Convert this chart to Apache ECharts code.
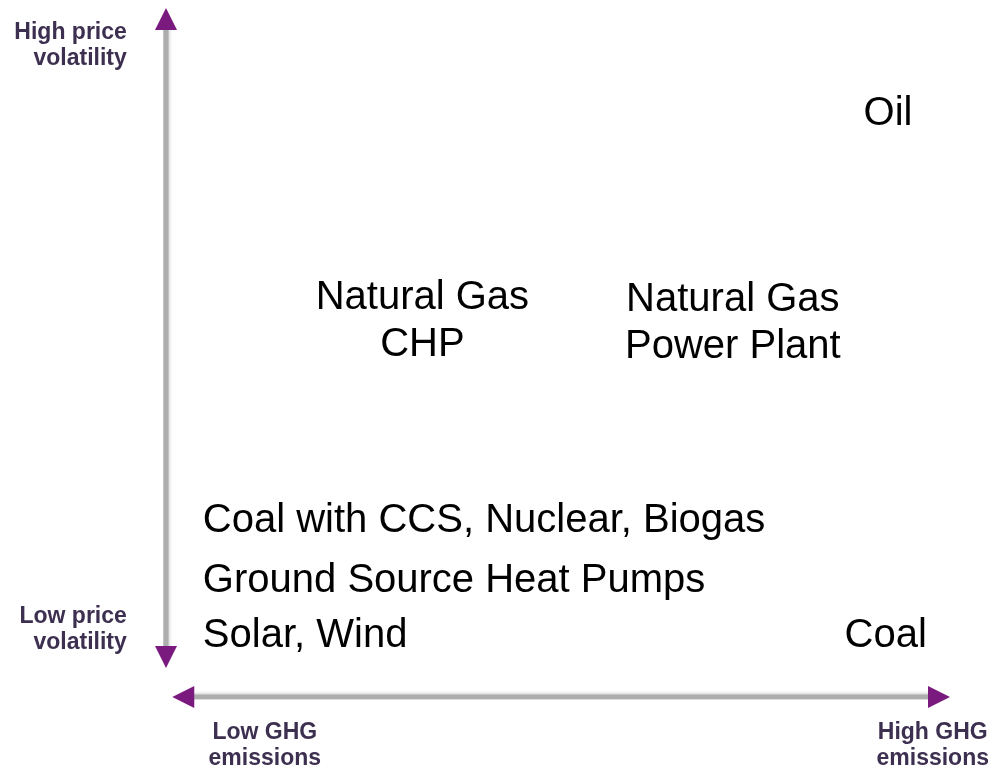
<!DOCTYPE html>
<html>
<head>
<meta charset="utf-8">
<script src="https://cdn.jsdelivr.net/npm/echarts@6/dist/echarts.min.js"></script>
<style>
  html, body { margin: 0; padding: 0; background: #fff; }
  #box { width: 997px; height: 769px; }
</style>
</head>
<body>
<div id="box"></div>
<script>
const chartDom = document.getElementById('box');
const myChart = echarts.init(chartDom);

// items placed on a 0..10 scale: x = GHG emissions, y = price volatility
const itemNames = ['Oil', 'Natural Gas\nCHP', 'Natural Gas\nPower Plant', 'Coal with CCS, Nuclear, Biogas', 'Ground Source Heat Pumps', 'Solar, Wind', 'Coal'];
const itemX = [9.21, 3.27, 7.23, 0.47, 0.47, 0.47, 9.18];
const itemY = [8.46, 5.45, 5.42, 2.56, 1.69, 0.88, 0.88];
const itemAlign = ['center', 'center', 'center', 'left', 'left', 'left', 'center'];

// the two arrows
const vArrow = [[0, 9.84], [0, 0.58]];
const hArrow = [[0.22, 0], [9.86, 0]];
const arrowRotate = [0, 180, 90, -90];

// end labels of the arrows
const endNames = ['High price\nvolatility', 'Low price\nvolatility', 'Low GHG\nemissions', 'High GHG\nemissions'];
const endX = [-0.50, -0.50, 1.26, 9.78];
const endY = [9.45, 0.98, -0.70, -0.70];
const endAlign = ['right', 'right', 'center', 'center'];

const arrowHeads = vArrow.concat(hArrow).map((p, i) => ({
    value: p,
    symbolRotate: arrowRotate[i]
}));

const lineStyle = {
    color: '#adadad',
    width: 5,
    shadowBlur: 4,
    shadowColor: 'rgba(0,0,0,0.3)'
};

let option = {
    animation: false,
    grid: { left: 166, right: 47, top: 8, bottom: 72 },
    xAxis: { type: 'value', min: 0, max: 10, show: false },
    yAxis: { type: 'value', min: 0, max: 10, show: false },
    series: [
        {
            type: 'line',
            data: vArrow,
            symbol: 'none',
            lineStyle: lineStyle,
            z: 1
        },
        {
            type: 'line',
            data: hArrow,
            symbol: 'none',
            lineStyle: lineStyle,
            z: 1
        },
        {
            type: 'scatter',
            data: arrowHeads,
            symbol: 'triangle',
            symbolSize: 22,
            itemStyle: { color: '#7b1a7e', opacity: 1 },
            clip: false,
            z: 3
        },
        {
            type: 'scatter',
            data: itemNames.map((n, i) => ({
                value: [itemX[i], itemY[i]],
                label: { align: itemAlign[i] }
            })),
            symbolSize: 0,
            clip: false,
            itemStyle: { opacity: 1 },
            label: {
                show: true,
                position: 'inside',
                formatter: p => itemNames[p.dataIndex],
                color: '#000',
                fontFamily: 'Liberation Sans, Arial, sans-serif',
                fontSize: 40,
                lineHeight: 47
            },
            z: 4
        },
        {
            type: 'scatter',
            data: endNames.map((n, i) => ({
                value: [endX[i], endY[i]],
                label: { align: endAlign[i] }
            })),
            symbolSize: 0,
            clip: false,
            itemStyle: { opacity: 1 },
            label: {
                show: true,
                position: 'inside',
                formatter: p => endNames[p.dataIndex],
                color: '#3d2f50',
                fontFamily: 'Liberation Sans, Arial, sans-serif',
                fontWeight: 'bold',
                fontSize: 23,
                lineHeight: 26
            },
            z: 4
        }
    ]
};

myChart.setOption(option);
</script>
</body>
</html>
